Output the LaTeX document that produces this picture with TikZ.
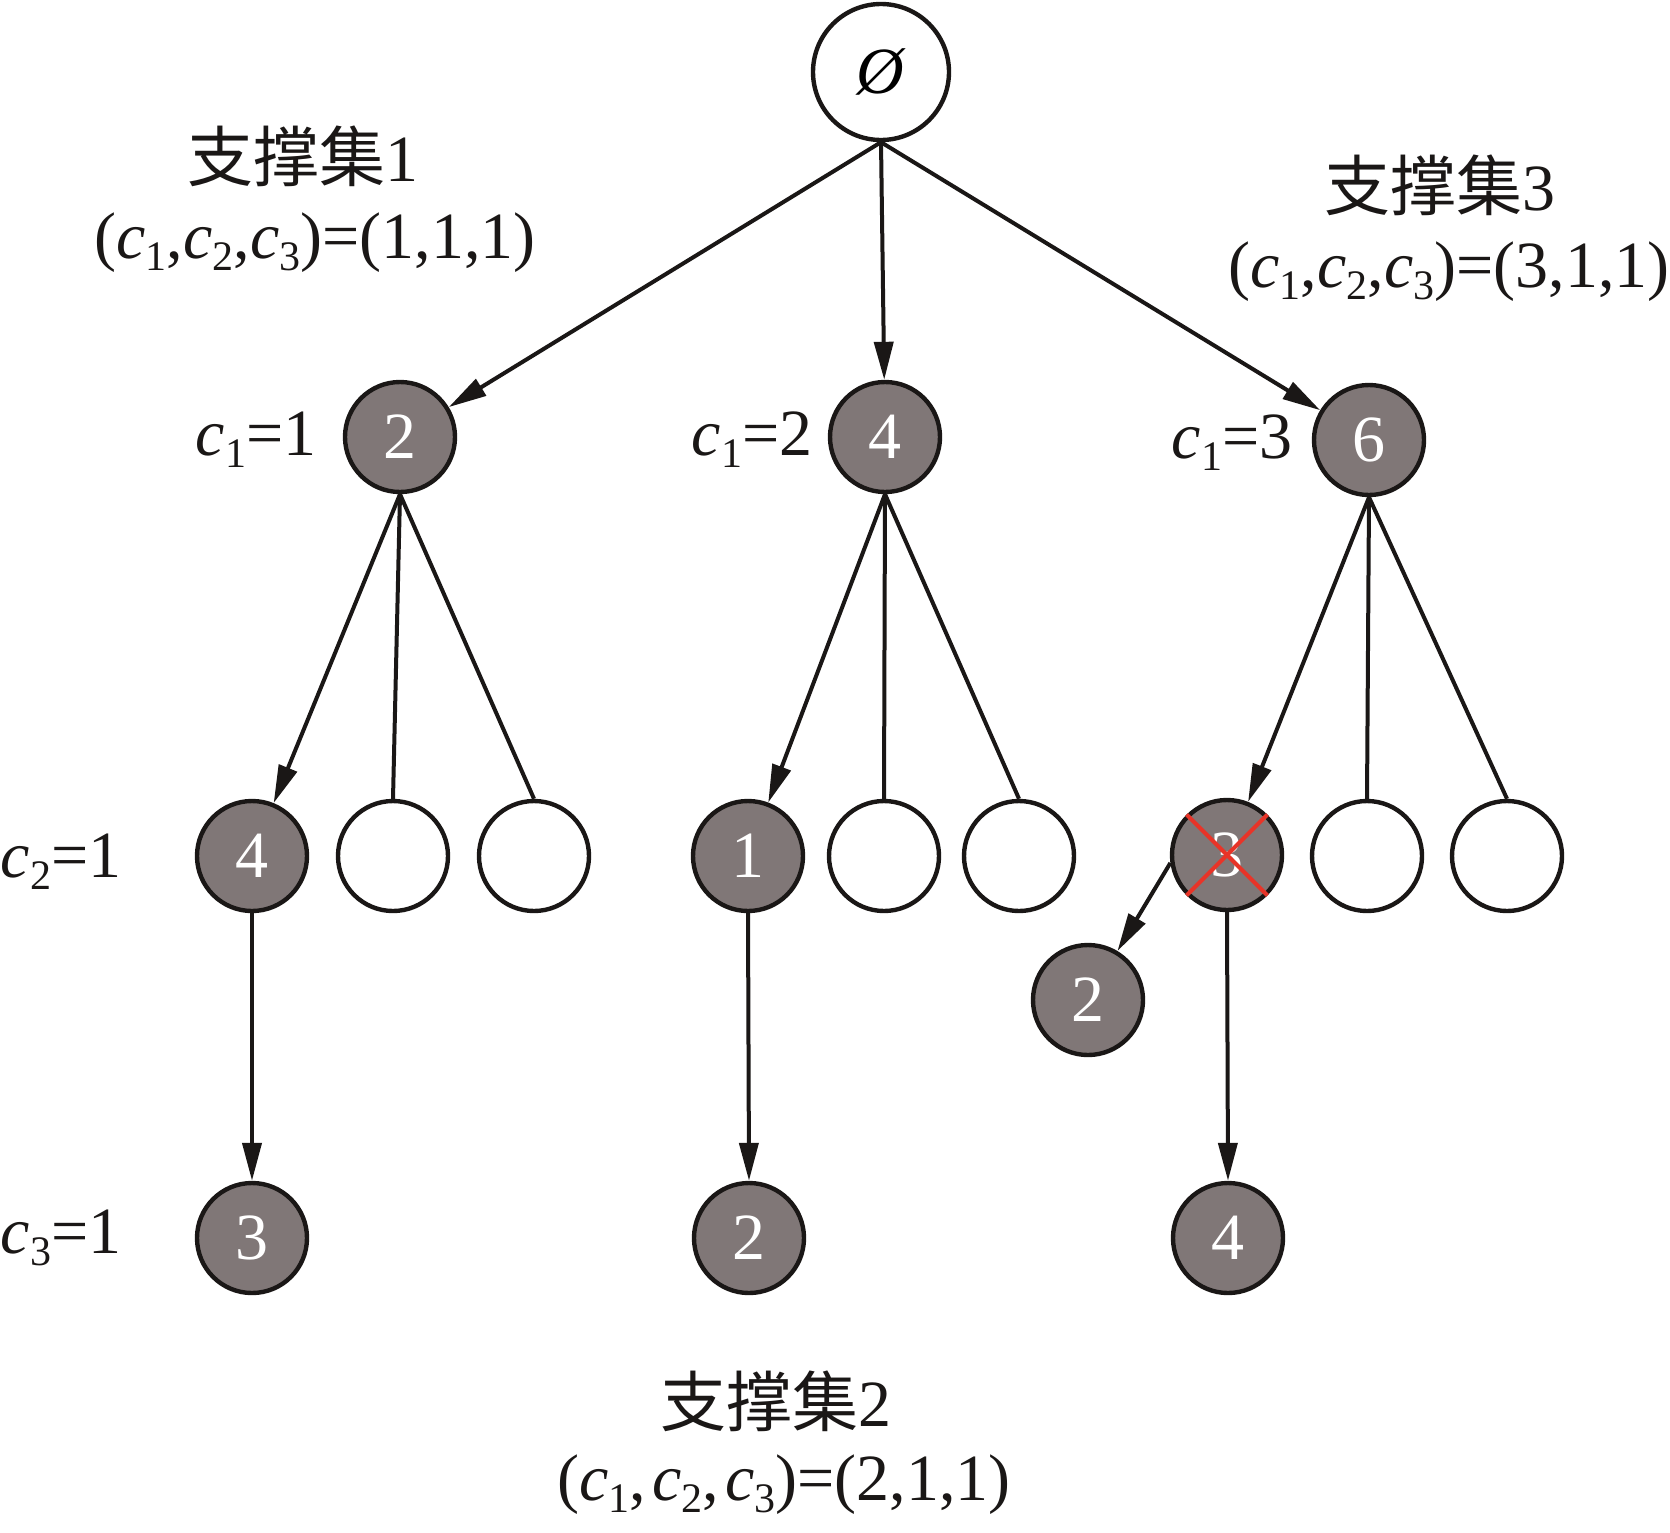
\documentclass[tikz,border=0pt]{standalone}
\usepackage{fontspec}
\setmainfont{Liberation Serif}
\newfontfamily\cjk{Noto Sans CJK SC}
\usetikzlibrary{arrows.meta}
\definecolor{nodegray}{RGB}{128,119,119}
\definecolor{crossred}{RGB}{232,52,40}
\definecolor{inkblack}{RGB}{26,23,22}
\newcommand{\cs}[1]{\textit{c}\raisebox{-6pt}{\fontsize{21}{21}\selectfont #1}}
\begin{document}
\begin{tikzpicture}[x=0.5pt,y=-0.5pt,
  every node/.style={font=\fontsize{33}{38}\selectfont},
  full/.style={circle,draw=inkblack,line width=2.2pt,fill=nodegray,text=white,minimum size=55pt,inner sep=0pt},
  empty/.style={circle,draw=inkblack,line width=2.2pt,fill=white,minimum size=55pt,inner sep=0pt},
  rootnode/.style={circle,draw=inkblack,line width=2.2pt,fill=white,minimum size=68pt,inner sep=0pt},
  conn/.style={inkblack,line width=2pt},
  arr/.style={inkblack,line width=2pt,-{Triangle[length=19pt,width=9.5pt]}},
  lab/.style={inner sep=0pt,text=inkblack}]
\useasboundingbox (0,0) rectangle (1670,1532);
% root
\node[rootnode] (r) at (881,72) {\textit{Ø}};
% level 1
\node[full] (A) at (400,437) {2};
\node[full] (B) at (885,437) {4};
\node[full] (C) at (1369,440) {6};
% level 2
\node[full]  (a1) at (252,856) {4};
\node[empty] (a2) at (393,856) {};
\node[empty] (a3) at (534,856) {};
\node[full]  (b1) at (748,856) {1};
\node[empty] (b2) at (884,856) {};
\node[empty] (b3) at (1019,856) {};
\node[full]  (c1) at (1227,855) {3};
\node[empty] (c2) at (1367,856) {};
\node[empty] (c3) at (1507,856) {};
\node[full]  (d) at (1088,1000) {2};
% level 3
\node[full] (a4) at (252,1238) {3};
\node[full] (b4) at (749,1238) {2};
\node[full] (c4) at (1228,1238) {4};
% cross
\draw[crossred,line width=2pt] (c1.north west) -- (c1.south east);
\draw[crossred,line width=2pt] (c1.north east) -- (c1.south west);
% edges
\draw[arr] (r.south) -- (A);
\draw[arr] (r.south) -- (B);
\draw[arr] (r.south) -- (C);
\draw[arr] (A.south) -- (a1);
\draw[conn] (A.south) -- (a2.north);
\draw[conn] (A.south) -- (a3.north);
\draw[arr] (B.south) -- (b1);
\draw[conn] (B.south) -- (b2.north);
\draw[conn] (B.south) -- (b3.north);
\draw[arr] (C.south) -- (c1);
\draw[conn] (C.south) -- (c2.north);
\draw[conn] (C.south) -- (c3.north);
\draw[arr] (a1.south) -- (a4.north);
\draw[arr] (b1.south) -- (b4.north);
\draw[arr] (c1.south) -- (c4.north);
\draw[arr] (c1.188) -- (d);
% level labels
\node[lab] (l1) at (256,440) {\cs{1}=1};
\node[lab] (l2) at (752,440) {\cs{1}=2};
\node[lab] (l3) at (1232,443) {\cs{1}=3};
\node[lab] (l4) at (61,862) {\cs{2}=1};
\node[lab] (l5) at (61,1238) {\cs{3}=1};
% support set labels
\node[lab] (s1) at (303,156) {{\cjk 支撑集}1};
\node[lab] (t1) at (315,243) {(\cs{1},\cs{2},\cs{3})=(1,1,1)};
\node[lab] (s3) at (1440,185) {{\cjk 支撑集}3};
\node[lab] (t3) at (1449,272) {(\cs{1},\cs{2},\cs{3})=(3,1,1)};
\node[lab] (s2) at (776,1401) {{\cjk 支撑集}2};
\node[lab] (t2) at (784,1485) {(\cs{1},\hspace{3pt}\cs{2},\hspace{3pt}\cs{3})=(2,1,1)};
\end{tikzpicture}
\end{document}
